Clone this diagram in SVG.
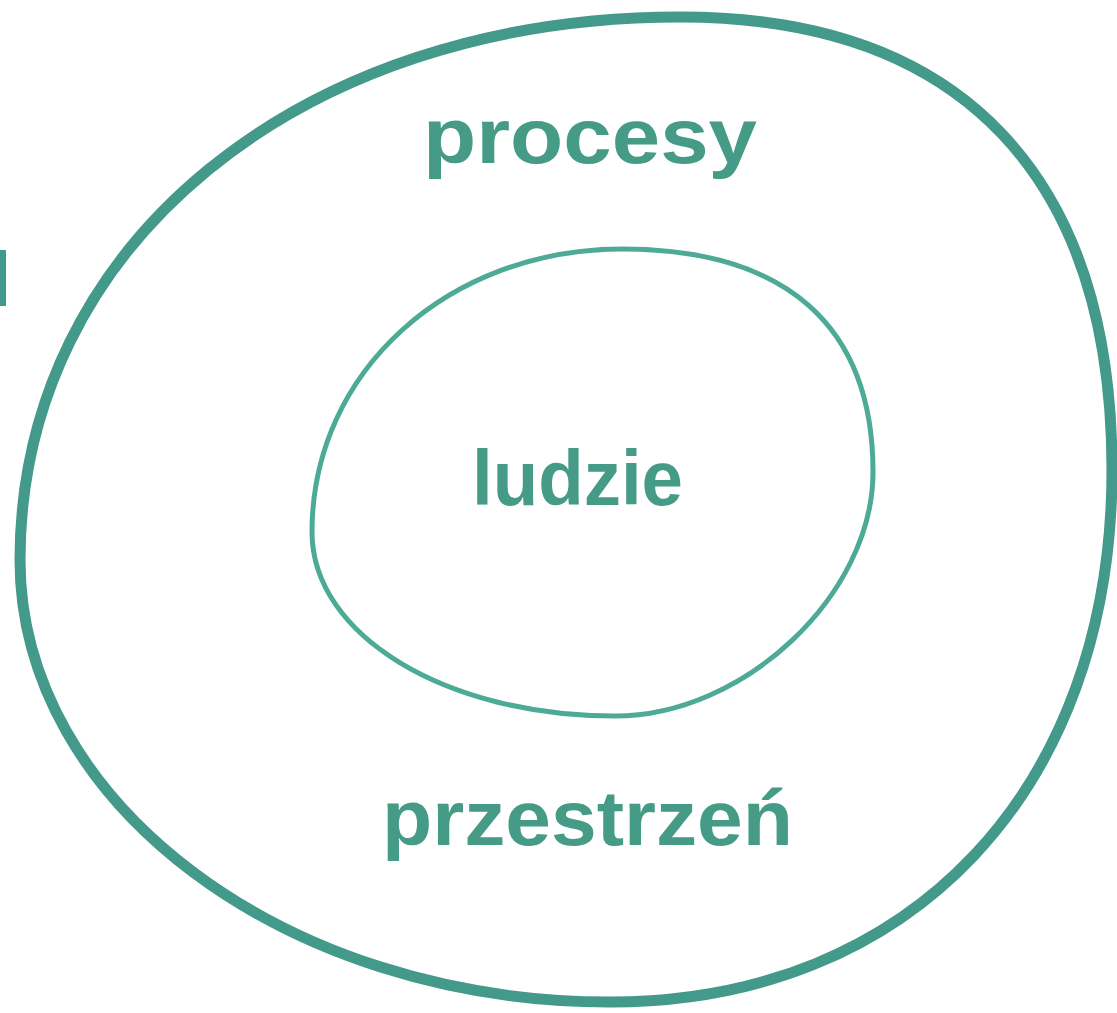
<svg xmlns="http://www.w3.org/2000/svg" width="1117" height="1013" viewBox="0 0 1117 1013">
<style>
.ring{fill:none;stroke-linejoin:round;stroke-linecap:round}
.outer{stroke:#43998a;stroke-width:11}
.inner{stroke:#4daa97;stroke-width:5}
.lbl{font-family:"Liberation Sans",Arial,sans-serif;font-weight:700;fill:#459b86;font-size:78px}
</style>
<rect width="1117" height="1013" fill="#ffffff"/>
<rect id="edge-bar" x="0" y="250" width="6" height="56" fill="#43998a"/>
<g id="outer">
<path class="ring outer" d="M680,17 C961,17 1112,176 1112,470 C1112,789 911,1002 610,1002 C285,1002 20,803 20,560 C20,245 300,17 680,17 Z"/>
<text class="lbl" x="423" y="163" textLength="334" lengthAdjust="spacingAndGlyphs">procesy</text>
<text class="lbl" x="382" y="845" textLength="411" lengthAdjust="spacingAndGlyphs">przestrzeń</text>
</g>
<g id="inner">
<path class="ring inner" d="M622,249 C785,249 873,325 873,472 C873,595 744,716 615,716 C445,716 312,635 312,532 C312,370 450,249 622,249 Z"/>
<text class="lbl" x="472" y="505" textLength="211" lengthAdjust="spacingAndGlyphs">ludzie</text>
</g>
<g id="connectors"/>
</svg>
